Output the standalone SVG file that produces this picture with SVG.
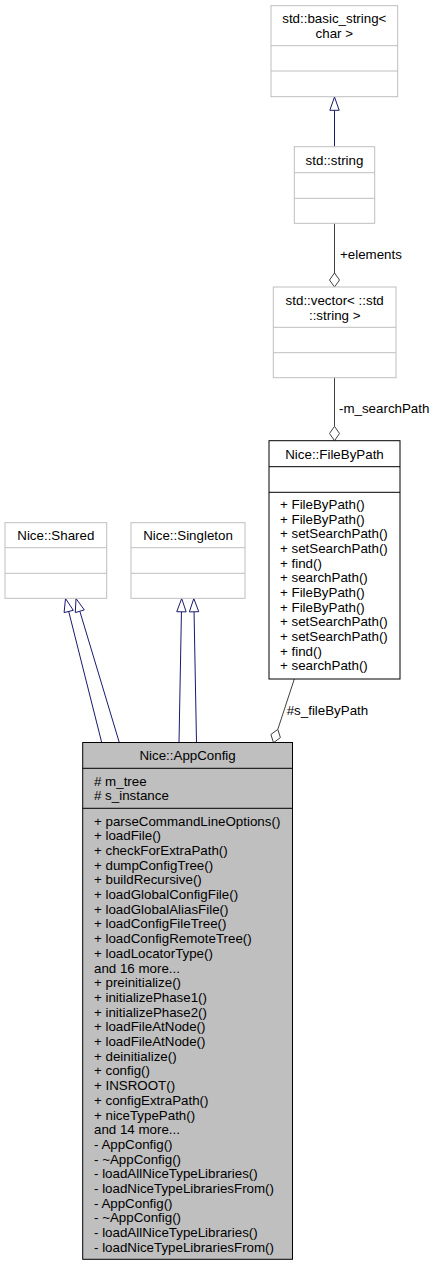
<svg xmlns="http://www.w3.org/2000/svg" width="435" height="1265" viewBox="0 0 435 1265">
<style>
text{font-family:"Liberation Sans",Arial,sans-serif;font-size:13.33px;fill:#000}
.c{text-anchor:middle}
.gb{fill:#fff;stroke:#bfbfbf;stroke-width:1}
.bb{fill:#fff;stroke:#000;stroke-width:1}
.ab{fill:#bfbfbf;stroke:#000;stroke-width:1}
.inh{fill:none;stroke:#191970;stroke-width:1}
.inhh{fill:#fff;stroke:#191970;stroke-width:1}
.agg{fill:none;stroke:#404040;stroke-width:1}
.aggh{fill:#fff;stroke:#404040;stroke-width:1}
</style>
<rect width="435" height="1265" fill="#fff"/>
<g id="connectors">
  <!-- basic_string -> std::string inheritance -->
  <line class="inh" x1="334.5" y1="146.7" x2="334.5" y2="110.3"/>
  <polygon class="inhh" points="334.5,97 339.2,110.3 329.8,110.3"/>
  <!-- std::string -> vector (+elements) -->
  <line class="agg" x1="334.5" y1="223.3" x2="334.5" y2="273"/>
  <polygon class="aggh" points="334.5,273 339.5,280 334.5,287 329.5,280"/>
  <text x="340" y="259">+elements</text>
  <!-- vector -> FileByPath (-m_searchPath) -->
  <line class="agg" x1="334.5" y1="377.7" x2="334.5" y2="426.3"/>
  <polygon class="aggh" points="334.5,426.3 339.5,433.5 334.5,440.7 329.5,433.5"/>
  <text x="339" y="413">-m_searchPath</text>
  <!-- FileByPath -> AppConfig (#s_fileByPath) -->
  <line class="agg" x1="294.3" y1="679" x2="277.8" y2="729.4"/>
  <polygon class="aggh" points="277.8,729.4 280.4,737.6 273.5,742.7 270.9,734.5"/>
  <text x="286.7" y="715">#s_fileByPath</text>
  <!-- Shared inheritance -->
  <line class="inh" x1="101.7" y1="742.5" x2="68.7" y2="611.4"/>
  <polygon class="inhh" points="65.5,598.5 73.3,610.3 64.1,612.6"/>
  <line class="inh" x1="119.3" y1="742.5" x2="79.8" y2="611.2"/>
  <polygon class="inhh" points="76,598.5 84.3,609.9 75.3,612.6"/>
  <!-- Singleton inheritance -->
  <line class="inh" x1="179" y1="742.5" x2="181.45" y2="611.8"/>
  <polygon class="inhh" points="181.7,598.5 186.15,611.9 176.75,611.7"/>
  <line class="inh" x1="196.5" y1="742.5" x2="194.05" y2="611.8"/>
  <polygon class="inhh" points="193.8,598.5 198.75,611.7 189.35,611.9"/>
</g>
<g id="basic_string">
  <rect class="gb" x="271" y="5.7" width="126.7" height="91"/>
  <line class="gb" x1="271" y1="45.7" x2="397.7" y2="45.7"/>
  <line class="gb" x1="271" y1="71" x2="397.7" y2="71"/>
  <text class="c" x="334.3" y="23">std::basic_string&lt;</text>
  <text class="c" x="334.3" y="37.7">char &gt;</text>
</g>
<g id="std_string">
  <rect class="gb" x="294.3" y="146.7" width="80.4" height="76.6"/>
  <line class="gb" x1="294.3" y1="172.7" x2="374.7" y2="172.7"/>
  <line class="gb" x1="294.3" y1="198.3" x2="374.7" y2="198.3"/>
  <text class="c" x="334.5" y="164.5">std::string</text>
</g>
<g id="vector">
  <rect class="gb" x="273.3" y="287" width="122.7" height="90.7"/>
  <line class="gb" x1="273.3" y1="327.3" x2="396" y2="327.3"/>
  <line class="gb" x1="273.3" y1="352.7" x2="396" y2="352.7"/>
  <text class="c" x="334.7" y="304.8">std::vector&lt; ::std</text>
  <text class="c" x="334.7" y="319.5">::string &gt;</text>
</g>
<g id="FileByPath">
  <rect class="bb" x="269" y="440.7" width="131" height="238.3"/>
  <line class="bb" x1="269" y1="466.7" x2="400" y2="466.7"/>
  <line class="bb" x1="269" y1="492.3" x2="400" y2="492.3"/>
  <text class="c" x="334.5" y="458.5">Nice::FileByPath</text>
  <text x="280" y="509">+ FileByPath()</text>
  <text x="280" y="523.67">+ FileByPath()</text>
  <text x="280" y="538.33">+ setSearchPath()</text>
  <text x="280" y="553">+ setSearchPath()</text>
  <text x="280" y="567.67">+ find()</text>
  <text x="280" y="582.33">+ searchPath()</text>
  <text x="280" y="597">+ FileByPath()</text>
  <text x="280" y="611.67">+ FileByPath()</text>
  <text x="280" y="626.33">+ setSearchPath()</text>
  <text x="280" y="641">+ setSearchPath()</text>
  <text x="280" y="655.67">+ find()</text>
  <text x="280" y="670.33">+ searchPath()</text>
</g>
<g id="Shared">
  <rect class="gb" x="5" y="522.7" width="101.7" height="75.6"/>
  <line class="gb" x1="5" y1="547.7" x2="106.7" y2="547.7"/>
  <line class="gb" x1="5" y1="573.3" x2="106.7" y2="573.3"/>
  <text class="c" x="55.8" y="540">Nice::Shared</text>
</g>
<g id="Singleton">
  <rect class="gb" x="131" y="522.7" width="114" height="75.6"/>
  <line class="gb" x1="131" y1="547.7" x2="245" y2="547.7"/>
  <line class="gb" x1="131" y1="573.3" x2="245" y2="573.3"/>
  <text class="c" x="188" y="540">Nice::Singleton</text>
</g>
<g id="AppConfig">
  <rect class="ab" x="82.7" y="742.5" width="209.8" height="516.8"/>
  <line class="ab" x1="82.7" y1="768.3" x2="292.5" y2="768.3"/>
  <line class="ab" x1="82.7" y1="808.3" x2="292.5" y2="808.3"/>
  <text class="c" x="187.6" y="760">Nice::AppConfig</text>
  <text x="94" y="785.5"># m_tree</text>
  <text x="94" y="800.2"># s_instance</text>
  <text x="94" y="825.5">+ parseCommandLineOptions()</text>
  <text x="94" y="840.2">+ loadFile()</text>
  <text x="94" y="854.9">+ checkForExtraPath()</text>
  <text x="94" y="869.6">+ dumpConfigTree()</text>
  <text x="94" y="884.3">+ buildRecursive()</text>
  <text x="94" y="899">+ loadGlobalConfigFile()</text>
  <text x="94" y="913.7">+ loadGlobalAliasFile()</text>
  <text x="94" y="928.4">+ loadConfigFileTree()</text>
  <text x="94" y="943.1">+ loadConfigRemoteTree()</text>
  <text x="94" y="957.8">+ loadLocatorType()</text>
  <text x="94" y="972.5">and 16 more...</text>
  <text x="94" y="987.2">+ preinitialize()</text>
  <text x="94" y="1001.9">+ initializePhase1()</text>
  <text x="94" y="1016.6">+ initializePhase2()</text>
  <text x="94" y="1031.3">+ loadFileAtNode()</text>
  <text x="94" y="1046">+ loadFileAtNode()</text>
  <text x="94" y="1060.7">+ deinitialize()</text>
  <text x="94" y="1075.4">+ config()</text>
  <text x="94" y="1090.1">+ INSROOT()</text>
  <text x="94" y="1104.8">+ configExtraPath()</text>
  <text x="94" y="1119.5">+ niceTypePath()</text>
  <text x="94" y="1134.2">and 14 more...</text>
  <text x="94" y="1148.9">- AppConfig()</text>
  <text x="94" y="1163.6">- ~AppConfig()</text>
  <text x="94" y="1178.3">- loadAllNiceTypeLibraries()</text>
  <text x="94" y="1193">- loadNiceTypeLibrariesFrom()</text>
  <text x="94" y="1207.7">- AppConfig()</text>
  <text x="94" y="1222.4">- ~AppConfig()</text>
  <text x="94" y="1237.1">- loadAllNiceTypeLibraries()</text>
  <text x="94" y="1251.8">- loadNiceTypeLibrariesFrom()</text>
</g>
</svg>
